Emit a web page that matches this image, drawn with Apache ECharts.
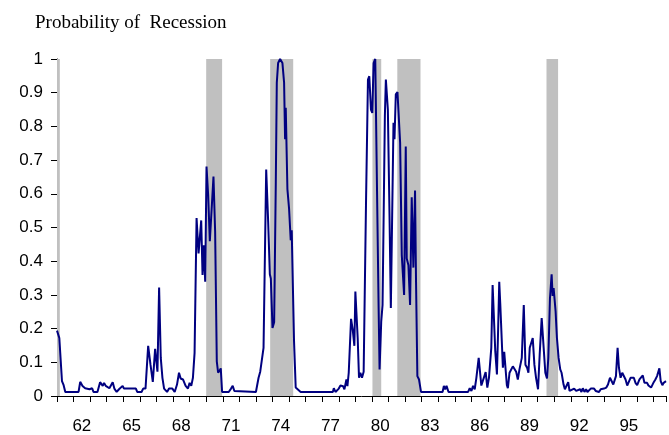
<!DOCTYPE html>
<html>
<head>
<meta charset="utf-8">
<script src="https://cdn.jsdelivr.net/npm/echarts@6/dist/echarts.min.js"></script>
<style>html,body{margin:0;padding:0;background:#fff}#c{width:669px;height:435px}</style>
</head>
<body>
<div id="c"></div>
<script>
const dates = [1961.0,1961.14,1961.3,1961.4,1961.5,1962.3,1962.4,1962.54,1962.7,1962.96,1963.06,1963.12,1963.2,1963.44,1963.6,1963.7,1963.76,1963.84,1963.94,1964.04,1964.16,1964.36,1964.46,1964.6,1964.74,1964.84,1964.96,1965.04,1965.76,1965.84,1966.1,1966.2,1966.34,1966.5,1966.64,1966.78,1966.92,1967.0,1967.06,1967.16,1967.26,1967.36,1967.46,1967.64,1967.76,1967.96,1968.1,1968.24,1968.36,1968.46,1968.6,1968.76,1968.9,1969.0,1969.1,1969.2,1969.3,1969.42,1969.54,1969.6,1969.7,1969.78,1969.86,1969.94,1970.02,1970.12,1970.22,1970.34,1970.44,1970.54,1970.64,1970.72,1970.82,1970.88,1970.96,1971.36,1971.5,1971.6,1971.7,1971.8,1973.0,1973.06,1973.16,1973.26,1973.36,1973.46,1973.62,1973.74,1973.84,1973.9,1974.0,1974.1,1974.2,1974.26,1974.34,1974.46,1974.6,1974.7,1974.76,1974.8,1974.86,1974.9,1975.0,1975.1,1975.16,1975.22,1975.3,1975.4,1975.5,1975.7,1977.64,1977.7,1977.8,1978.0,1978.1,1978.26,1978.34,1978.4,1978.46,1978.52,1978.6,1978.74,1978.84,1978.94,1979.0,1979.06,1979.14,1979.22,1979.3,1979.4,1979.5,1979.64,1979.76,1979.84,1979.94,1980.02,1980.1,1980.2,1980.3,1980.4,1980.46,1980.56,1980.64,1980.7,1980.78,1980.84,1980.96,1981.06,1981.14,1981.22,1981.3,1981.36,1981.44,1981.54,1981.62,1981.7,1981.8,1981.94,1982.04,1982.1,1982.2,1982.3,1982.4,1982.5,1982.6,1982.66,1982.74,1982.84,1982.96,1984.26,1984.34,1984.42,1984.5,1984.62,1985.8,1985.9,1986.0,1986.1,1986.2,1986.3,1986.44,1986.6,1986.72,1986.86,1986.96,1987.06,1987.14,1987.2,1987.28,1987.36,1987.44,1987.54,1987.6,1987.68,1987.74,1987.82,1987.9,1987.98,1988.06,1988.14,1988.2,1988.3,1988.4,1988.5,1988.6,1988.7,1988.8,1988.9,1989.04,1989.16,1989.26,1989.36,1989.44,1989.52,1989.6,1989.7,1989.8,1989.9,1990.02,1990.12,1990.24,1990.36,1990.46,1990.56,1990.64,1990.74,1990.84,1990.9,1990.96,1991.02,1991.08,1991.16,1991.26,1991.36,1991.44,1991.56,1991.64,1991.74,1991.84,1991.92,1992.04,1992.2,1992.32,1992.44,1992.56,1992.64,1992.72,1992.82,1992.92,1993.0,1993.2,1993.4,1993.5,1993.7,1993.8,1993.9,1994.0,1994.14,1994.24,1994.36,1994.46,1994.56,1994.64,1994.72,1994.82,1994.9,1995.0,1995.1,1995.2,1995.3,1995.4,1995.5,1995.6,1995.7,1995.8,1995.9,1996.0,1996.14,1996.24,1996.34,1996.44,1996.54,1996.6,1996.68,1996.76,1996.84,1996.92,1997.0,1997.1,1997.2,1997.28,1997.34,1997.42,1997.52,1997.6,1997.74];
const probs = [0.194,0.172,0.044,0.032,0.012,0.012,0.042,0.03,0.023,0.02,0.015,0.023,0.012,0.012,0.041,0.041,0.03,0.039,0.03,0.032,0.023,0.041,0.022,0.012,0.02,0.02,0.03,0.022,0.022,0.012,0.012,0.022,0.022,0.149,0.093,0.042,0.14,0.143,0.072,0.322,0.113,0.054,0.022,0.012,0.022,0.022,0.012,0.034,0.069,0.052,0.049,0.03,0.022,0.039,0.03,0.054,0.128,0.528,0.423,0.42,0.521,0.359,0.447,0.339,0.681,0.595,0.459,0.462,0.651,0.487,0.103,0.069,0.076,0.082,0.012,0.012,0.022,0.03,0.015,0.012,0.012,0.015,0.054,0.072,0.072,0.143,0.672,0.516,0.361,0.349,0.202,0.219,0.634,0.93,0.988,1.0,0.988,0.93,0.762,0.855,0.855,0.614,0.556,0.462,0.492,0.49,0.162,0.025,0.022,0.012,0.012,0.023,0.012,0.022,0.031,0.029,0.02,0.025,0.049,0.029,0.069,0.229,0.197,0.149,0.31,0.31,0.172,0.054,0.069,0.054,0.072,0.565,0.939,0.949,0.85,0.84,0.988,1.0,0.634,0.27,0.079,0.221,0.27,0.27,0.831,0.939,0.85,0.536,0.261,0.536,0.811,0.762,0.895,0.902,0.9,0.752,0.418,0.3,0.74,0.408,0.388,0.27,0.59,0.381,0.61,0.339,0.059,0.049,0.012,0.012,0.03,0.02,0.03,0.012,0.012,0.023,0.015,0.03,0.02,0.054,0.113,0.031,0.034,0.071,0.025,0.054,0.059,0.143,0.329,0.329,0.133,0.064,0.172,0.339,0.275,0.28,0.084,0.131,0.13,0.032,0.023,0.069,0.069,0.088,0.088,0.072,0.049,0.079,0.113,0.27,0.093,0.084,0.069,0.143,0.138,0.172,0.093,0.054,0.02,0.123,0.231,0.143,0.069,0.052,0.113,0.29,0.361,0.297,0.32,0.32,0.251,0.172,0.113,0.079,0.069,0.034,0.02,0.02,0.041,0.015,0.012,0.022,0.015,0.012,0.02,0.012,0.023,0.012,0.02,0.012,0.022,0.022,0.015,0.012,0.02,0.015,0.022,0.025,0.034,0.054,0.049,0.034,0.039,0.059,0.143,0.084,0.054,0.069,0.064,0.049,0.031,0.029,0.054,0.059,0.054,0.039,0.032,0.049,0.054,0.061,0.039,0.034,0.039,0.031,0.034,0.025,0.02,0.041,0.049,0.059,0.059,0.082,0.044,0.032,0.039,0.044];
const recStart = [1961.0, 1970.0, 1973.86, 1980.03, 1981.53, 1990.53];
const recEnd   = [1961.17, 1970.96, 1975.25, 1980.56, 1982.93, 1991.23];
const tickLabels = ['62','65','68','71','74','77','80','83','86','89','92','95'];
const labelPos = [1962.5,1965.5,1968.5,1971.5,1974.5,1977.5,1980.5,1983.5,1986.5,1989.5,1992.5,1995.5];

const chart = echarts.init(document.getElementById('c'), null, {renderer:'canvas'});
const xMin = 1961, xMax = 1997.74;
const labelFont = {fontFamily:'Liberation Sans, Arial, sans-serif', fontSize:17, color:'#000'};
chart.setOption({
  animation:false,
  backgroundColor:'#fff',
  title:{text:'Probability of  Recession', left:30, top:9,
    textStyle:{fontFamily:'Liberation Serif, Times New Roman, serif', fontSize:19, fontWeight:'normal', color:'#000'}},
  grid:{left:57, top:59, width:612, height:339},
  xAxis:[
    {type:'value', min:xMin, max:xMax, interval:1,
     axisLine:{show:true, onZero:false, lineStyle:{color:'#000', width:1}},
     axisTick:{show:true, length:6, lineStyle:{color:'#000'}},
     axisLabel:{show:false}, splitLine:{show:false}},
    {type:'value', min:xMin, max:xMax, interval:1.5, position:'bottom',
     axisLine:{show:false}, axisTick:{show:false}, splitLine:{show:false},
     axisLabel:Object.assign({show:true, margin:22, showMinLabel:true, showMaxLabel:true,
       formatter:function(v){
         for (let i=0;i<labelPos.length;i++){ if (Math.abs(v-labelPos[i])<1e-6) return tickLabels[i]; }
         return '';
       }}, labelFont)}
  ],
  yAxis:{type:'value', min:0, max:1, interval:0.1,
    axisLine:{show:true, lineStyle:{color:'#000', width:1}},
    axisTick:{show:true, length:6, lineStyle:{color:'#000'}},
    axisLabel:Object.assign({margin:14, formatter:function(v){return String(Math.round(v*10)/10);}}, labelFont),
    splitLine:{show:false}},
  series:[
    {type:'line', data:[], xAxisIndex:0, z:1, silent:true,
     markArea:{silent:true, itemStyle:{color:'#c0c0c0', opacity:1},
       data: recStart.map((s,i)=>[{xAxis:s, yAxis:0},{xAxis:recEnd[i], yAxis:1}])}},
    {type:'line', xAxisIndex:0, z:5, showSymbol:false, symbol:'none',
     lineStyle:{color:'#000080', width:2}, 
     data: dates.map((d,i)=>[d, probs[i]])}
  ]
});
</script>
</body>
</html>
